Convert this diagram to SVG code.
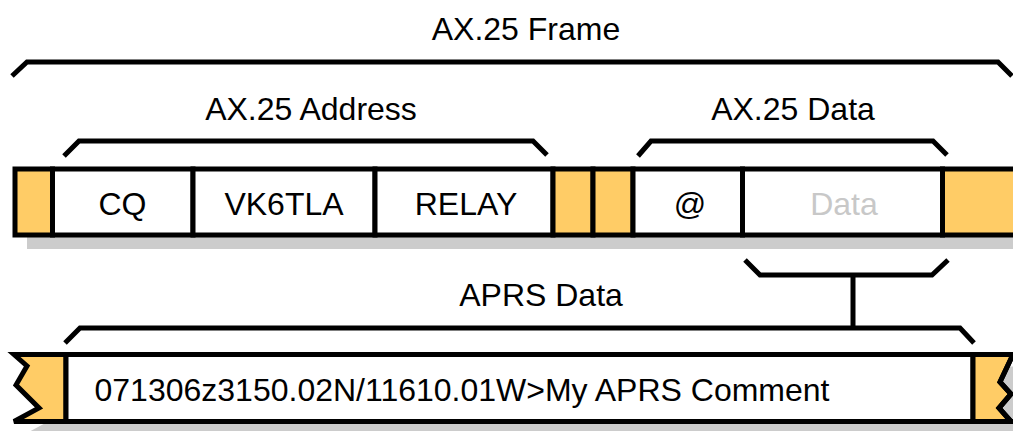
<svg xmlns="http://www.w3.org/2000/svg" width="1013" height="431" viewBox="0 0 1013 431">
  <style>
    .lbl { font-family: "Liberation Sans", Arial, sans-serif; font-size: 32px; fill: #000; text-anchor: middle; }
    .dim { fill: #c8c8c8; }
    .cell { fill: #fff; stroke: #000; stroke-width: 5; }
    .pad { fill: #ffcc66; stroke: #000; stroke-width: 5; }
    .brace { fill: none; stroke: #000; stroke-width: 5; stroke-linejoin: miter; }
    .shadow { fill: #cccccc; }
  </style>
  <rect width="1013" height="431" fill="#fff"/>

  <!-- drop shadows -->
  <rect class="shadow" x="27" y="181" width="990" height="68"/>
  <polygon class="shadow" points="26,366.5 39,378 28,397 51,420 26,433.5 1025,433.5 1025,366.5"/>

  <!-- AX.25 frame bar -->
  <g id="frame-bar">
    <rect id="flag-start" class="pad" x="15" y="169" width="37.5" height="66"/>
    <g id="addr-cq"><rect class="cell" x="52.5" y="169" width="140.5" height="66"/><text class="lbl" x="122.5" y="215">CQ</text></g>
    <g id="addr-src"><rect class="cell" x="193" y="169" width="182" height="66"/><text class="lbl" x="284" y="215">VK6TLA</text></g>
    <g id="addr-relay"><rect class="cell" x="375" y="169" width="178" height="66"/><text class="lbl" x="466" y="215">RELAY</text></g>
    <rect id="ctrl" class="pad" x="553" y="169" width="40" height="66"/>
    <rect id="pid" class="pad" x="593" y="169" width="40" height="66"/>
    <g id="dti"><rect class="cell" x="633" y="169" width="109.5" height="66"/><text class="lbl" x="690" y="215">@</text></g>
    <g id="info"><rect class="cell" x="742.5" y="169" width="200" height="66"/><text class="lbl dim" x="844" y="215">Data</text></g>
    <rect id="fcs" class="pad" x="942.5" y="169" width="80" height="66"/>
  </g>

  <!-- APRS payload bar -->
  <g id="aprs-bar">
    <polygon class="pad" points="14,354.5 66,354.5 66,421.5 14,421.5 39,408 16,385 27,366"/>
    <rect class="cell" x="66" y="354.5" width="907" height="67"/>
    <polygon class="pad" points="973,354.5 1020,354.5 1013,354.5 1000,382 1011,394 999,408 1011,421.5 973,421.5"/>
    <polyline class="brace" points="1020,354.5 1013,354.5 1000,382 1011,394 999,408 1011,421.5 1020,421.5"/>
    <text class="lbl" x="462" y="401">071306z3150.02N/11610.01W&gt;My APRS Comment</text>
  </g>

  <!-- brackets -->
  <g id="connectors">
    <polyline class="brace" points="12,76 27,62 998,62 1012,76"/>
    <polyline class="brace" points="64,156 79,141 533,141 547,155"/>
    <polyline class="brace" points="638,156 651,141 933,141 947,155"/>
    <polyline class="brace" points="745,260 760,275 932,275 948,260"/>
    <line class="brace" x1="853" y1="275" x2="853" y2="328"/>
    <polyline class="brace" points="65,343 80,328 960,328 974,343"/>
  </g>

  <!-- bracket labels -->
  <g id="labels">
    <text class="lbl" x="526" y="40">AX.25 Frame</text>
    <text class="lbl" x="311" y="120">AX.25 Address</text>
    <text class="lbl" x="793" y="120">AX.25 Data</text>
    <text class="lbl" x="541" y="306">APRS Data</text>
  </g>
</svg>
